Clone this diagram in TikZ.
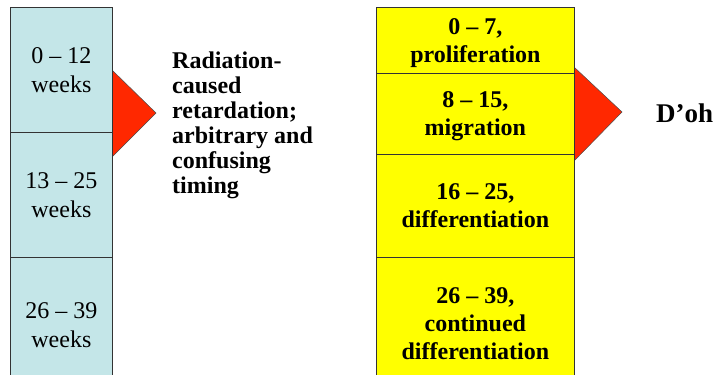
\documentclass[tikz,border=0pt]{standalone}
\usepackage{fontspec}
\setmainfont{Liberation Serif}
\definecolor{paleblue}{RGB}{196,230,232}
\definecolor{stageyellow}{RGB}{255,255,0}
\definecolor{pointred}{RGB}{255,40,0}
\tikzset{
  weekbox/.style={draw=black!80, fill=paleblue, line width=0.8pt, anchor=north west,
    minimum width=102pt, align=center, inner sep=0pt,
    font=\fontsize{24}{29}\selectfont},
  stagebox/.style={draw=black!80, fill=stageyellow, line width=0.8pt, anchor=north west,
    minimum width=198pt, align=center, inner sep=0pt,
    font=\fontsize{24}{28}\selectfont\bfseries},
  pointer/.style={fill=pointred, draw=black!70, line width=0.5pt},
  remark/.style={align=left, inner sep=0pt, font=\fontsize{24}{25}\selectfont\bfseries}
}
\begin{document}
\begin{tikzpicture}[x=1pt,y=-1pt]
      \clip (0,0) rectangle (721,375);
      % red pointers
      \draw[pointer] (112,70) -- (156,113) -- (112,157) -- cycle;
      \draw[pointer] (574,67) -- (622,112) -- (574,161) -- cycle;
      % weeks
      \node[weekbox, minimum height=125pt] (w1) at (10,7) {0 -- 12\\weeks};
      \node[weekbox, minimum height=125pt] (w2) at (10,132) {13 -- 25\\weeks};
      \node[weekbox, minimum height=135pt] (w3) at (10,257) {26 -- 39\\weeks};
      % stages
      \node[stagebox, minimum height=66pt, text depth=0pt] (s1) at (376,7) {0 -- 7,\\proliferation};
      \node[stagebox, minimum height=81pt, text depth=0pt] (s2) at (376,73) {8 -- 15,\\migration};
      \node[stagebox, minimum height=103pt] (s3) at (376,154) {16 -- 25,\\differentiation};
      \node[stagebox, minimum height=132pt] (s4) at (376,257) {26 -- 39,\\continued\\differentiation};
      % remarks
      \node[remark, anchor=base west] (why) at (172,193)
        {Radiation-\\caused\\retardation;\\arbitrary and\\confusing\\timing};
      \node[remark, anchor=base west, font=\fontsize{27}{27}\selectfont\bfseries] (doh) at (656,122) {D’oh};
\end{tikzpicture}
\end{document}
